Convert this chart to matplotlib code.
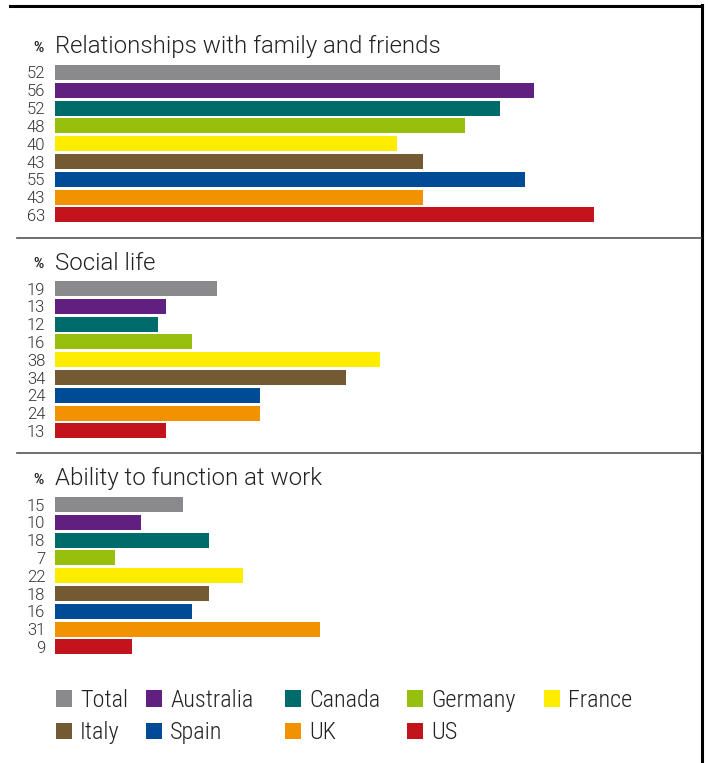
import matplotlib
matplotlib.use('Agg')
import matplotlib.pyplot as plt
from matplotlib.patches import Patch
from matplotlib.lines import Line2D

# Countries and their colours
countries = ['Total', 'Australia', 'Canada', 'Germany', 'France',
             'Italy', 'Spain', 'UK', 'US']
colors = ['#8a8a8c', '#61207f', '#006b6b', '#97bf0d', '#ffed00',
          '#735a32', '#004b96', '#f39200', '#c3141e']

# Share of respondents (%) per area of life
titles = ['Relationships with family and friends',
          'Social life',
          'Ability to function at work']
relationships = [52, 56, 52, 48, 40, 43, 55, 43, 63]
social_life = [19, 13, 12, 16, 38, 34, 24, 24, 13]
work = [15, 10, 18, 7, 22, 18, 16, 31, 9]
panels = [relationships, social_life, work]

plt.rcParams['font.family'] = ['Roboto Condensed', 'DejaVu Sans']
plt.rcParams['font.weight'] = 300
wide_font = ['Roboto', 'DejaVu Sans']

W, H = 708, 763
fig = plt.figure(figsize=(W / 100, H / 100), dpi=100)


def px_box(left, top, width, height):
    """Convert a pixel box (from top-left) into figure fractions."""
    return [left / W, 1 - (top + height) / H, width / W, height / H]


step = 17.8
bar_left = 55
px_per_unit = 8.55
ax_width = 700 - bar_left
panel_tops = [63.6, 279.6, 495.6]
title_y = [47, 263, 479]

for values, title, top, ty in zip(panels, titles, panel_tops, title_y):
    ax = fig.add_axes(px_box(bar_left, top, ax_width, step * 9))
    ypos = list(range(len(values)))
    ax.barh(ypos, values, height=0.84, color=colors, left=0)
    ax.set_xlim(0, ax_width / px_per_unit)
    ax.set_ylim(8.5, -0.5)
    ax.set_yticks(ypos)
    ax.set_yticklabels([str(v) for v in values], fontsize=12,
                       color='#333333', fontweight=300, family=wide_font)
    ax.tick_params(axis='y', length=0, pad=7)
    ax.set_xticks([])
    for side in ax.spines.values():
        side.set_visible(False)
    ax.patch.set_alpha(0)

    fig.text(55 / W, 1 - ty / H, title, fontsize=17.3, color='#222222',
             va='center', ha='left', fontweight=300, family=wide_font)
    fig.text(44 / W, 1 - (ty + 1) / H, '%', fontsize=10,
             fontweight='bold', color='#222222', va='center', ha='right',
             family=wide_font)

# Frame: heavy black top and right rules, grey panel separators
fig.add_artist(Line2D([10 / W, 702 / W], [1 - 5.5 / H, 1 - 5.5 / H],
                      color='black', lw=2.2, transform=fig.transFigure))
fig.add_artist(Line2D([701.5 / W, 701.5 / W], [1 - 5 / H, 0],
                      color='black', lw=2.2, transform=fig.transFigure))
for sep in [238, 453]:
    fig.add_artist(Line2D([17 / W, 701 / W], [1 - sep / H, 1 - sep / H],
                          color='#555555', lw=1.2,
                          transform=fig.transFigure))

# Legend: one small legend per column, two rows each
column_x = [56, 146, 285, 407, 544]
for col, x in enumerate(column_x):
    idx = [i for i in (col, col + 5) if i < len(countries)]
    handles = [Patch(facecolor=colors[i], edgecolor='none') for i in idx]
    fig.legend(handles, [countries[i] for i in idx], ncol=1, frameon=False,
               loc='upper left', bbox_to_anchor=(x / W, 1 - 689 / H),
               borderpad=0, borderaxespad=0,
               prop={'size': 17.5, 'weight': 300},
               handlelength=0.66, handleheight=0.66,
               handletextpad=0.33, labelspacing=0.38,
               labelcolor='#222222')

fig.savefig('out.png', dpi=100)
